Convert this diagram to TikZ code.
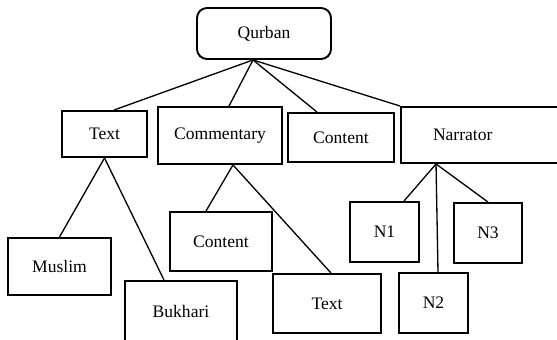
\documentclass[tikz,border=0pt]{standalone}
\usepackage{fontspec}
\setmainfont{Liberation Serif}
\usepackage{tikz}
\usetikzlibrary{positioning}

\begin{document}
\begin{tikzpicture}[
    box/.style={draw,line width=1.1pt,inner sep=0pt,font=\fontsize{10}{12}\selectfont},
    link/.style={line width=0.75pt}]
    \useasboundingbox (0,0) rectangle (11.14,6.78);
    \clip (0,0) rectangle (11.14,6.78);

    \node[box,rounded corners=0.2cm,minimum width=2.68cm,minimum height=1.02cm] at (5.28,6.11) (qurban) {Qurban};

    \node[box,minimum width=1.70cm,minimum height=0.92cm] at (2.09,4.10) (text) {Text};
    \node[box,minimum width=2.48cm,minimum height=1.14cm] at (4.40,4.07) (commentary) {Commentary};
    \node[box,minimum width=2.12cm,minimum height=0.98cm] at (6.82,4.03) (content) {Content};
    \node[box,text width=2.0cm,inner xsep=0.64cm,align=left,minimum height=1.12cm] at (9.66,4.08) (narrator) {Narrator};

    \node[box,minimum width=2.06cm,minimum height=1.14cm] at (1.19,1.45) (muslim) {Muslim};
    \node[box,minimum width=2.24cm,minimum height=1.20cm] at (3.62,0.56) (bukhari) {Bukhari};
    \node[box,minimum width=2.04cm,minimum height=1.18cm] at (4.42,1.95) (content2) {Content};
    \node[box,minimum width=2.16cm,minimum height=1.18cm] at (6.54,0.71) (text2) {Text};
    \node[box,minimum width=1.38cm,minimum height=1.20cm] at (7.69,2.14) (n1) {N1};
    \node[box,minimum width=1.38cm,minimum height=1.20cm] at (8.67,0.72) (n2) {N2};
    \node[box,minimum width=1.36cm,minimum height=1.20cm] at (9.76,2.12) (n3) {N3};

    \draw[link] ([xshift=-0.22cm]qurban.south)--([xshift=0.19cm]text.north);
    \draw[link] ([xshift=-0.22cm]qurban.south)--([xshift=0.18cm]commentary.north);
    \draw[link] ([xshift=-0.22cm]qurban.south)--([xshift=-0.48cm]content.north);
    \draw[link] ([xshift=-0.22cm]qurban.south)--(narrator.north west);

    \draw[link] (text.south)--(muslim.north);
    \draw[link] (text.south)--([xshift=-0.34cm]bukhari.north);

    \draw[link] ([xshift=0.26cm]commentary.south)--([xshift=-0.30cm]content2.north);
    \draw[link] ([xshift=0.26cm]commentary.south)--([xshift=0.08cm]text2.north);

    \draw[link] ([xshift=0.72cm]narrator.south west)--([xshift=0.39cm]n1.north);
    \draw[link] ([xshift=0.72cm]narrator.south west)--([xshift=0.09cm]n2.north);
    \draw[link] ([xshift=0.72cm]narrator.south west)--(n3.north);
\end{tikzpicture}
\end{document}
